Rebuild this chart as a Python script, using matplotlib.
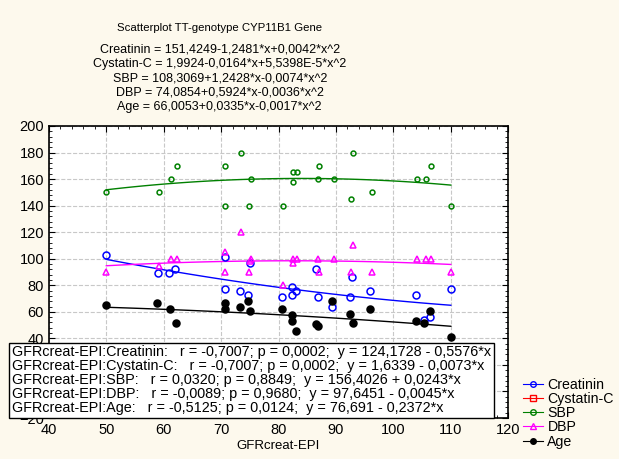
import numpy as np
import matplotlib
matplotlib.use("Agg")
import matplotlib.pyplot as plt
from matplotlib.ticker import MultipleLocator

plt.rcParams['font.family'] = ['Liberation Sans', 'DejaVu Sans']

# data
creat_x = [50, 59, 61, 62, 70.6, 70.6, 73.3, 74.7, 75.0, 80.6, 82.4, 82.4, 83.0,
           86.5, 86.9, 89.3, 92.5, 92.8, 96.0, 104.0, 105.4, 106.4, 110]
creat_y = [103, 89.6, 89.6, 92.6, 101.4, 77.5, 75.7, 73, 96.8, 71.5, 79, 73, 75.7,
           92.6, 71.5, 64, 71.5, 86.6, 76, 73, 53.6, 56.4, 77.5]

cyst_x = [50, 59, 61, 62, 70.6, 73.3, 75.0, 80.6, 82.4, 83.0, 86.9, 89.3, 92.8,
          96.0, 104.0, 106.4, 110]
cyst_y = [1.35, 1.2, 1.3, 1.25, 1.15, 1.1, 1.2, 1.05, 1.0, 1.1, 0.95, 1.0, 0.9,
          0.95, 0.85, 0.9, 0.8]

sbp_x = [50, 59.1, 61.3, 62.3, 70.7, 70.7, 73.4, 74.9, 75.2, 80.8, 82.5, 83.3,
         82.5, 86.8, 87.1, 89.6, 92.7, 93.0, 96.2, 104.2, 105.6, 106.6, 110.1]
sbp_y = [150, 150, 160, 170, 170, 140, 180, 140, 160, 140, 165, 165,
         158, 160, 170, 160, 145, 180, 150, 160, 160, 170, 140]

dbp_x = [50, 59.2, 61.3, 62.3, 70.7, 70.7, 73.4, 74.9, 75.2, 75.1, 80.8, 82.5, 83.3,
         82.5, 86.8, 87.1, 89.6, 92.7, 93.0, 96.2, 104.2, 105.6, 106.6, 110.1]
dbp_y = [90, 94.3, 100, 100, 105, 90, 120, 90, 100, 98, 80, 100, 100,
         97, 100, 90, 100, 90, 110, 90, 100, 100, 100, 90]

age_x = [50, 58.9, 61.1, 62.1, 70.6, 70.6, 73.3, 74.7, 75.0, 80.6, 82.4, 82.4, 83.0,
         86.5, 86.9, 89.3, 92.5, 92.9, 96.0, 104.0, 105.4, 106.4, 110]
age_y = [65.4, 66.7, 62.1, 51.8, 66.7, 62.1, 63.7, 68.2, 60.6, 62.1, 57.9, 53.1, 45.5,
         50.6, 49.1, 68.4, 58.1, 51.8, 62.4, 53.4, 51.8, 60.9, 41.3]

# quadratic fits printed in the chart (a + b*x + c*x^2)
creat_fit = [151.4249, -1.2481, 0.0042]
cyst_fit = [1.9924, -0.0164, 5.5398e-5]
sbp_fit = [108.3069, 1.2428, -0.0074]
dbp_fit = [74.0854, 0.5924, -0.0036]
age_fit = [66.0053, 0.0335, -0.0017]

title_lines = [
    "Scatterplot TT-genotype CYP11B1 Gene",
    "Creatinin = 151,4249-1,2481*x+0,0042*x^2",
    "Cystatin-C = 1,9924-0,0164*x+5,5398E-5*x^2",
    "SBP = 108,3069+1,2428*x-0,0074*x^2",
    "DBP = 74,0854+0,5924*x-0,0036*x^2",
    "Age = 66,0053+0,0335*x-0,0017*x^2",
]
stat_lines = [
    "GFRcreat-EPI:Creatinin:   r = -0,7007; p = 0,0002;  y = 124,1728 - 0,5576*x",
    "GFRcreat-EPI:Cystatin-C:   r = -0,7007; p = 0,0002;  y = 1,6339 - 0,0073*x",
    "GFRcreat-EPI:SBP:   r = 0,0320; p = 0,8849;  y = 156,4026 + 0,0243*x",
    "GFRcreat-EPI:DBP:   r = -0,0089; p = 0,9680;  y = 97,6451 - 0,0045*x",
    "GFRcreat-EPI:Age:   r = -0,5125; p = 0,0124;  y = 76,691 - 0,2372*x",
]

bg = '#fdf9ed'
fig = plt.figure(figsize=(6.19, 4.59), dpi=100, facecolor=bg)
ax = fig.add_axes([0.079, 0.0893, 0.742, 0.6362])

series = [
    ("Creatinin", creat_x, creat_y, creat_fit, 'blue', 'o', 'none', 5),
    ("Cystatin-C", cyst_x, cyst_y, cyst_fit, 'red', 's', 'none', 4),
    ("SBP", sbp_x, sbp_y, sbp_fit, 'green', 'o', 'none', 3.5),
    ("DBP", dbp_x, dbp_y, dbp_fit, 'magenta', '^', 'none', 5),
    ("Age", age_x, age_y, age_fit, 'black', 'o', 'black', 5),
]
xx = np.linspace(50, 110, 100)
for name, xs, ys, fit, col, mk, fc, ms in series:
    ax.plot(xs, ys, linestyle='none', marker=mk, markersize=ms, markerfacecolor=fc,
            markeredgecolor=col, markeredgewidth=1.1, zorder=3)
    ax.plot(xx, fit[0] + fit[1] * xx + fit[2] * xx ** 2, color=col, lw=1, zorder=2)
    ax.plot([], [], color=col, lw=0.8, marker=mk, markersize=4, markerfacecolor=fc,
            markeredgecolor=col, label=name)

ax.set_xlim(40, 120)
ax.set_ylim(-20, 200)
ax.xaxis.set_major_locator(MultipleLocator(10))
ax.xaxis.set_minor_locator(MultipleLocator(2))
ax.yaxis.set_major_locator(MultipleLocator(20))
ax.yaxis.set_minor_locator(MultipleLocator(4))
ax.tick_params(which='both', direction='in', top=True, right=True, labelsize=10.5)
ax.tick_params(which='major', length=4)
ax.tick_params(which='minor', length=2.5)
ax.grid(True, which='major', linestyle='--', color='#c8c8c8', lw=0.8)
ax.set_axisbelow(True)
ax.set_xlabel("GFRcreat-EPI", fontsize=9.5, labelpad=2)
for s in ax.spines.values():
    s.set_linewidth(1.2)

fig.text(0.355, 0.938, title_lines[0], ha='center', va='center', fontsize=8.2)
for i, line in enumerate(title_lines[1:]):
    fig.text(0.355, 0.892 - i * 0.0315, line, ha='center', va='center', fontsize=9)

fig.text(0.02, 0.172, "\n".join(stat_lines), ha='left', va='center', fontsize=10.4,
         linespacing=0.98, zorder=10,
         bbox=dict(boxstyle='square,pad=0.2', facecolor='white', edgecolor='black', lw=1))

fig.legend(loc='center left', bbox_to_anchor=(0.834, 0.1), frameon=False,
           fontsize=10.2, handlelength=1.4, labelspacing=0.02, borderpad=0,
           handletextpad=0.3)

fig.savefig("out.png", dpi=100, facecolor=bg)
